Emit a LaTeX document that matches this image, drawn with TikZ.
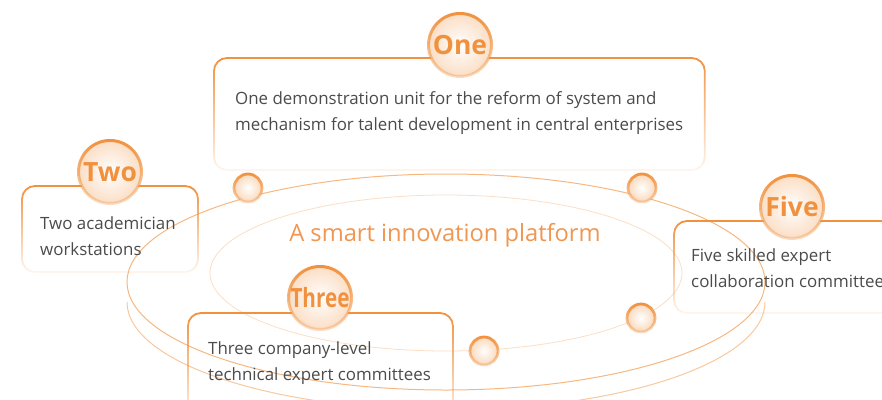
\documentclass[tikz,border=0pt]{standalone}
\usepackage{fontspec}
\setmainfont{Open Sans}
\usetikzlibrary{fadings}

% Fadings for the soft box borders and badge rings
\tikzfading[name=boxfade, top color=transparent!0, middle color=transparent!20, bottom color=transparent!92]
\tikzfading[name=ringfade, top color=transparent!0, bottom color=transparent!70]

\begin{document}
\begin{tikzpicture}[x=1pt, y=-1pt,
    rimline/.style={draw=accent, line width=1pt, opacity=0.65},
    innerline/.style={draw=accent, line width=0.8pt, opacity=0.3},
    boxline/.style={draw=accent, line width=1.8pt, rounded corners=13pt, path fading=boxfade},
    badge/.style={circle, minimum size=63pt, inner sep=0pt, preaction={fill=white},
        inner color=white, outer color=accent!30,
        postaction={draw=accent, line width=3pt, path fading=ringfade},
        font=\fontsize{26.5}{26.5}\selectfont\bfseries, text=accent},
    dot/.style={circle, minimum size=28pt, inner sep=0pt, preaction={fill=white},
        inner color=white, outer color=accent!35,
        postaction={draw=accent, line width=2.8pt, path fading=ringfade}},
    infotext/.style={anchor=north west, align=left, inner sep=0pt,
        font=\fontsize{16.9}{26}\selectfont, text=textgray}]

    % Define colours
    \definecolor{accent}{RGB}{241, 145, 62}     % Orange
    \definecolor{titlecolor}{RGB}{240, 150, 80}  % Light orange
    \definecolor{textgray}{RGB}{75, 75, 75}      % Dark gray

    \useasboundingbox (0,0) rectangle (882,399);
    \clip (0,0) rectangle (882,399);

    % Platform disk - outer rim, lower edge and inner ring
    \draw[rimline] (446,282) ellipse [x radius=319, y radius=108];
    \draw[rimline, opacity=0.5] (127,302) arc [start angle=180, end angle=0, x radius=319, y radius=108];
    \draw[innerline] (446,273) ellipse [x radius=236, y radius=78];

    % Central title
    \node[font=\fontsize{23.7}{23.7}\selectfont, text=titlecolor] (platform) at (445,235) {A smart innovation platform};

    % Boxes with fading borders
    \draw[boxline] (214,58) rectangle (705,170);
    \draw[boxline] (22,186) rectangle (198,272);
    \draw[boxline] (674,221) rectangle (910,313);
    \draw[boxline] (188,313) rectangle (453,425);

    % Small dots on the rims
    \node[dot] (dotnw) at (248,188) {};
    \node[dot] (dotne) at (642,188) {};
    \node[dot] (dotse) at (641,318) {};
    \node[dot] (dots) at (484,351) {};

    % Number badges
    \node[badge] (badgeone) at (460,45) {One};
    \node[badge] (badgetwo) at (110,172) {Two};
    \node[badge] (badgefive) at (792,207) {Five};
    \node[badge] (badgethree) at (320,298) {\scalebox{0.78}[1]{Three}};

    % Box texts
    \node[infotext] (textone) at (235,91) {One demonstration unit for the reform of system and\\mechanism for talent development in central enterprises};
    \node[infotext] (texttwo) at (40,216) {Two academician\\workstations};
    \node[infotext] (textfive) at (691,248) {Five skilled expert\\collaboration committees};
    \node[infotext] (textthree) at (208,341) {Three company-level\\technical expert committees};

\end{tikzpicture}
\end{document}
